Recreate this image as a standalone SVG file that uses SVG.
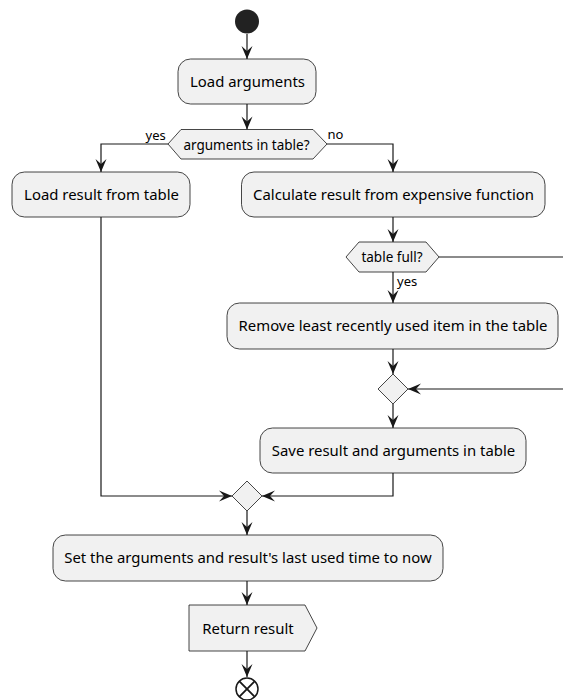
<svg xmlns="http://www.w3.org/2000/svg" width="563" height="700" viewBox="0 0 563 700">
<style>
.box{fill:#F1F1F1;stroke:#181818;stroke-width:0.8}
.t{font-family:"Noto Sans",sans-serif;font-size:14.9px;fill:#000;text-anchor:middle}
.ts{font-family:"Noto Sans",sans-serif;font-size:13.5px;fill:#000;text-anchor:middle}
.lbl{font-family:"Noto Sans",sans-serif;font-size:13px;fill:#000}
.c{fill:none;stroke:#181818;stroke-width:1.2}
</style>
<defs>
<marker id="ah" markerUnits="userSpaceOnUse" viewBox="-14 -7 15 14" refX="0" refY="0" markerWidth="15" markerHeight="14" orient="auto">
<path d="M0,0 L-13,-5.5 L-8,0 L-13,5.5 Z" fill="#181818"/>
</marker>
</defs>
<g id="connectors">
<path class="c" d="M247,34 V59" marker-end="url(#ah)"/>
<path class="c" d="M247,104 V129.5" marker-end="url(#ah)"/>
<path class="c" d="M168,144 H101 V172" marker-end="url(#ah)"/>
<path class="c" d="M327,144 H393 V172" marker-end="url(#ah)"/>
<path class="c" d="M393,217 V242" marker-end="url(#ah)"/>
<path class="c" d="M439,257 H563"/>
<path class="c" d="M393,272 V303" marker-end="url(#ah)"/>
<path class="c" d="M393,349 V374" marker-end="url(#ah)"/>
<path class="c" d="M563,389 H408" marker-end="url(#ah)"/>
<path class="c" d="M393,404 V428" marker-end="url(#ah)"/>
<path class="c" d="M101,217 V496 H232" marker-end="url(#ah)"/>
<path class="c" d="M393,473 V496 H262" marker-end="url(#ah)"/>
<path class="c" d="M247,511 V535" marker-end="url(#ah)"/>
<path class="c" d="M247,581 V605" marker-end="url(#ah)"/>
<path class="c" d="M247,651 V677" marker-end="url(#ah)"/>
<text class="lbl" x="145.5" y="140">yes</text>
<text class="lbl" x="327.5" y="139">no</text>
<text class="lbl" x="397" y="285.5">yes</text>
</g>
<g id="start"><circle cx="247" cy="21.5" r="12" fill="#222222"/></g>
<g id="load-arguments">
<rect class="box" x="178" y="59" width="138" height="45" rx="12.5"/>
<text class="t" x="247.5" y="87">Load arguments</text>
</g>
<g id="args-in-table">
<polygon class="box" points="168,144 181,129.5 313,129.5 327,144 313,159 181,159"/>
<text class="ts" x="246.5" y="149.5">arguments in table?</text>
</g>
<g id="load-result">
<rect class="box" x="12" y="172" width="178" height="45" rx="12.5"/>
<text class="t" x="101.5" y="200">Load result from table</text>
</g>
<g id="calculate">
<rect class="box" x="241.5" y="172" width="303.5" height="45" rx="12.5"/>
<text class="t" x="393.5" y="200">Calculate result from expensive function</text>
</g>
<g id="table-full">
<polygon class="box" points="346,257 359,242 426,242 439,257 426,272 359,272"/>
<text class="ts" x="392" y="262">table full?</text>
</g>
<g id="remove-lru">
<rect class="box" x="227" y="303" width="331" height="46" rx="12.5"/>
<text class="t" x="393" y="331">Remove least recently used item in the table</text>
</g>
<g id="merge1">
<polygon class="box" points="393,374 408,389 393,404 378,389"/>
</g>
<g id="save-result">
<rect class="box" x="260" y="428" width="266" height="45" rx="12.5"/>
<text class="t" x="393.5" y="456">Save result and arguments in table</text>
</g>
<g id="merge2">
<polygon class="box" points="247,481 262,496 247,511 232,496"/>
</g>
<g id="set-time">
<rect class="box" x="53" y="535" width="390" height="46" rx="12.5"/>
<text class="t" x="248" y="563">Set the arguments and result's last used time to now</text>
</g>
<g id="return-result">
<polygon class="box" points="189,605 305,605 317,628 305,651 189,651"/>
<text class="t" x="248" y="634">Return result</text>
</g>
<g id="end">
<circle cx="247" cy="689" r="11" fill="none" stroke="#181818" stroke-width="1.5"/>
<path d="M239.2,681.2 L254.8,696.8 M254.8,681.2 L239.2,696.8" stroke="#181818" stroke-width="1.8"/>
</g>
</svg>
